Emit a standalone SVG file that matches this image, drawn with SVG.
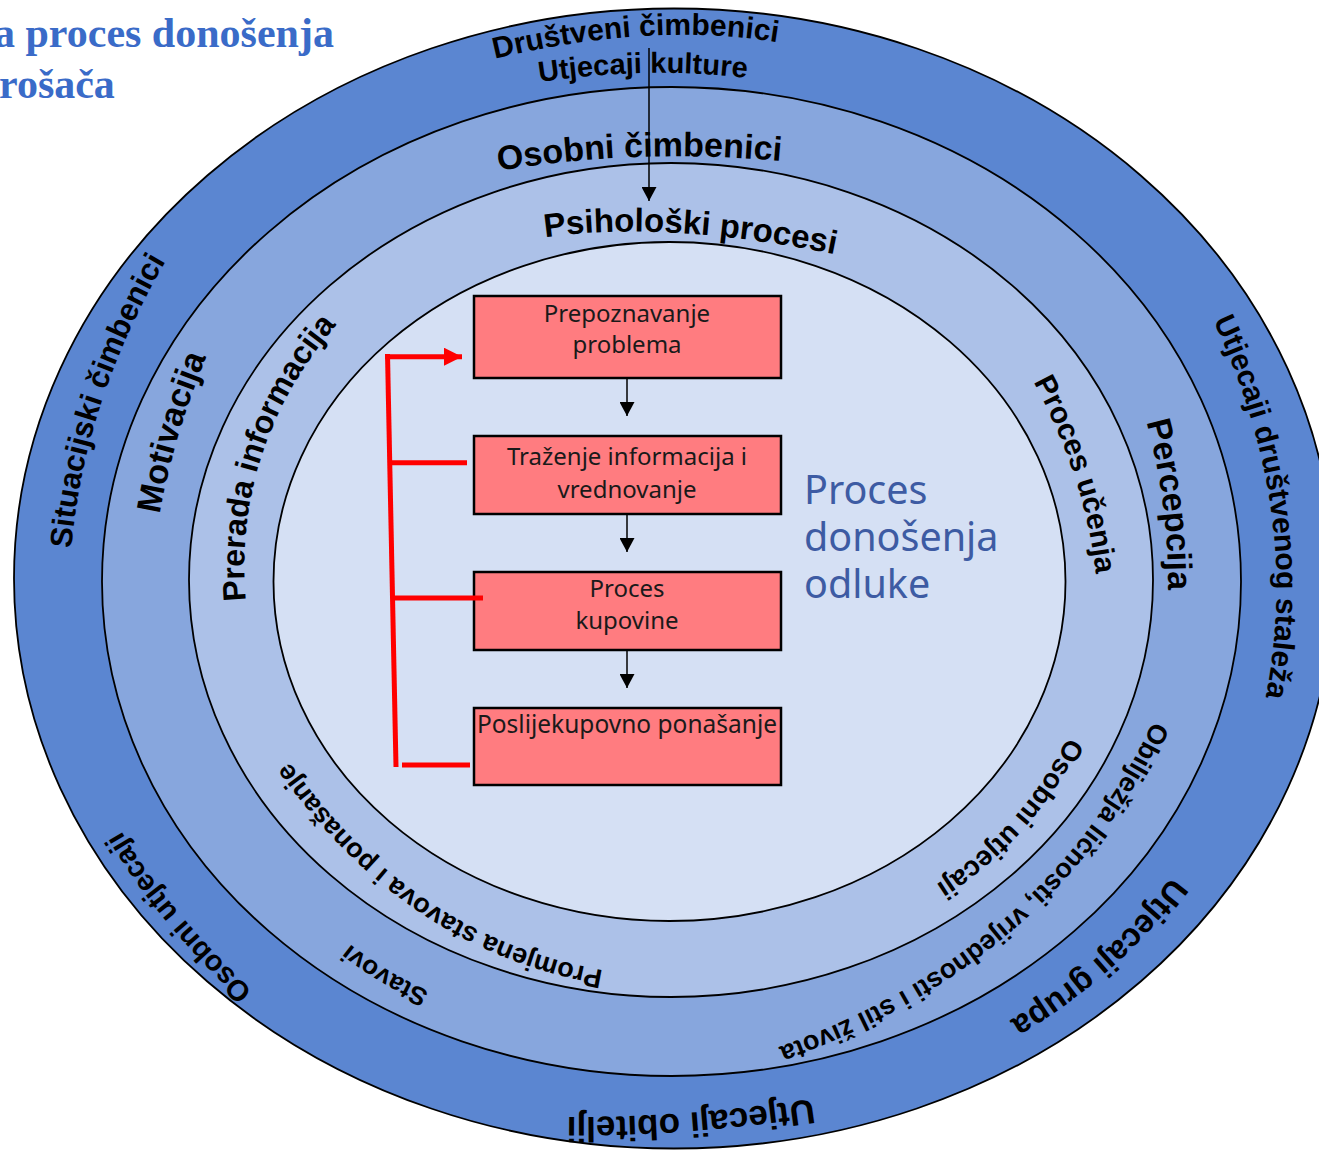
<svg xmlns="http://www.w3.org/2000/svg" width="1319" height="1151" viewBox="0 0 1319 1151">
<style>
.ring{stroke:#000;stroke-width:1.8}
.lbl{font-family:"Liberation Sans",Arial,sans-serif;font-weight:bold;fill:#000}
.box rect{fill:#FF7C80;stroke:#000;stroke-width:2.5}
.box text{font-family:"Noto Sans","DejaVu Sans",sans-serif;font-size:24px;fill:#1a1a1a;text-anchor:middle}
.blk{stroke:#000;stroke-width:1.5;fill:none}
.red{stroke:#FF0000;stroke-width:5;fill:none}
.title{font-family:"Liberation Serif","Times New Roman",serif;font-weight:bold;font-size:42px;fill:#3A6BC8}
.big{font-family:"Noto Sans","DejaVu Sans",sans-serif;font-size:39.5px;fill:#3D5BA3}
</style>
<defs>
<marker id="ah" viewBox="0 0 14 15" refX="14" refY="7.5" markerWidth="14" markerHeight="15" markerUnits="userSpaceOnUse" orient="auto"><path d="M0,0 L14,7.5 L0,15 Z" fill="#000"/></marker>
<marker id="rh" viewBox="0 0 18 18" refX="18" refY="9" markerWidth="18" markerHeight="18" markerUnits="userSpaceOnUse" orient="auto"><path d="M0,0 L18,9 L0,18 Z" fill="#FF0000"/></marker>
<path id="p1" d="M472.8,63.7 L502,57 Q650,23 770,41 L799.7,45.5"/>
<path id="p2" d="M510.3,86.4 L540,82 Q647,66 746,78 L775.8,81.6"/>
<path id="p3" d="M68.7,582.9 L71,553 Q82.5,403 168,257 L183.2,231.1"/>
<path id="p4" d="M1199.2,290.9 L1212,318 Q1303.5,511 1265,700 L1259,729.4"/>
<path id="p5" d="M1190,852 L1172,876 Q1106.5,963.5 1009,1021 L983.2,1036.2"/>
<path id="p6" d="M841.7,1094.7 L812,1099 Q680,1118 568,1117 L538,1116.7"/>
<path id="p7" d="M273.7,1010.7 L252,990 Q165,907 122,832 L107.1,806"/>
<path id="p8" d="M468.4,176 L498,171 Q634,148 782,161 L811.9,163.6"/>
<path id="p9" d="M154.8,542.6 L160,513 Q173,438.5 206,358 L217.4,330.2"/>
<path id="p10" d="M1138.1,391.1 L1146,420 Q1169,504 1168,592 L1167.7,622"/>
<path id="p11" d="M456.5,1003 L429,991 Q386.5,972.5 350,944 L326.4,925.5"/>
<path id="p12" d="M1169.5,685.7 L1157,713 Q1046.5,954.5 770,1050 L741.6,1059.8"/>
<path id="p13" d="M517.3,241.1 L547,237 Q666,220.5 833,254 L862.4,259.9"/>
<path id="p14" d="M248.7,632.9 L246,603 Q232,447 338,323 L357.5,300.2"/>
<path id="p15" d="M1018.7,354.6 L1033,381 Q1085.5,478 1096,575 L1099.2,604.8"/>
<path id="p16" d="M1082.5,708.2 L1069,735 Q1020.5,831.5 934,886 L908.6,902"/>
<path id="p17" d="M638.6,975.7 L609,971 Q412.5,940 286,757 L268.9,732.3"/>
</defs>
<rect width="1319" height="1151" fill="#fff"/>
<g id="title">
<text class="title" x="-6" y="47">a proces donošenja</text>
<text class="title" x="-1" y="98">rošača</text>
</g>
<g id="rings">
<ellipse id="ring-outer" class="ring" cx="674" cy="578.5" rx="660" ry="570" fill="#5B86D1"/>
<ellipse id="ring-second" class="ring" cx="671.5" cy="581.5" rx="569.5" ry="494.5" fill="#87A6DD"/>
<ellipse id="ring-third" class="ring" cx="671" cy="580" rx="482" ry="417" fill="#ACC1E8"/>
<ellipse id="ring-inner" class="ring" cx="669.5" cy="581.5" rx="396" ry="339.5" fill="#D5E0F4"/>
</g>
<g id="labels">
<text class="lbl" font-size="30"><textPath href="#p1" startOffset="50%" text-anchor="middle">Društveni čimbenici</textPath></text>
<text class="lbl" font-size="29"><textPath href="#p2" startOffset="50%" text-anchor="middle">Utjecaji kulture</textPath></text>
<text class="lbl" font-size="31"><textPath href="#p3" startOffset="50%" text-anchor="middle">Situacijski čimbenici</textPath></text>
<text class="lbl" font-size="30"><textPath href="#p4" startOffset="50%" text-anchor="middle">Utjecaji društvenog staleža</textPath></text>
<text class="lbl" font-size="33"><textPath href="#p5" startOffset="50%" text-anchor="middle">Utjecaji grupa</textPath></text>
<text class="lbl" font-size="35"><textPath href="#p6" startOffset="50%" text-anchor="middle">Utjecaji obitelji</textPath></text>
<text class="lbl" font-size="29"><textPath href="#p7" startOffset="50%" text-anchor="middle">Osobni utjecaji</textPath></text>
<text class="lbl" font-size="34"><textPath href="#p8" startOffset="50%" text-anchor="middle">Osobni čimbenici</textPath></text>
<text class="lbl" font-size="34"><textPath href="#p9" startOffset="50%" text-anchor="middle">Motivacija</textPath></text>
<text class="lbl" font-size="34"><textPath href="#p10" startOffset="50%" text-anchor="middle">Percepcija</textPath></text>
<text class="lbl" font-size="26"><textPath href="#p11" startOffset="50%" text-anchor="middle">Stavovi</textPath></text>
<text class="lbl" font-size="27"><textPath href="#p12" startOffset="50%" text-anchor="middle">Obilježja ličnosti, vrijednosti i stil života</textPath></text>
<text class="lbl" font-size="33"><textPath href="#p13" startOffset="50%" text-anchor="middle">Psihološki procesi</textPath></text>
<text class="lbl" font-size="32"><textPath href="#p14" startOffset="50%" text-anchor="middle">Prerada informacija</textPath></text>
<text class="lbl" font-size="30"><textPath href="#p15" startOffset="50%" text-anchor="middle">Proces učenja</textPath></text>
<text class="lbl" font-size="28"><textPath href="#p16" startOffset="50%" text-anchor="middle">Osobni utjecaji</textPath></text>
<text class="lbl" font-size="27"><textPath href="#p17" startOffset="50%" text-anchor="middle">Promjena stavova i ponašanje</textPath></text>
</g>
<g id="proces-donosenja-odluke">
<text class="big" x="804" y="504">Proces</text>
<text class="big" x="804" y="551">donošenja</text>
<text class="big" x="804" y="598">odluke</text>
</g>
<g id="box1" class="box">
<rect x="474" y="296" width="307" height="82"/>
<text x="627" y="322">Prepoznavanje</text>
<text x="627" y="353">problema</text>
</g>
<g id="box2" class="box">
<rect x="474" y="436" width="307" height="78"/>
<text x="627" y="465">Traženje informacija i</text>
<text x="627" y="498">vrednovanje</text>
</g>
<g id="box3" class="box">
<rect x="474" y="572" width="307" height="78"/>
<text x="627" y="597">Proces</text>
<text x="627" y="629">kupovine</text>
</g>
<g id="box4" class="box">
<rect x="474" y="708" width="307" height="77"/>
<text x="627" y="733" style="font-size:24.5px">Poslijekupovno ponašanje</text>
</g>
<g id="connectors">
<line class="blk" x1="649" y1="48" x2="649" y2="201" marker-end="url(#ah)"/>
<line class="blk" x1="627" y1="378" x2="627" y2="416" marker-end="url(#ah)"/>
<line class="blk" x1="627" y1="514" x2="627" y2="552" marker-end="url(#ah)"/>
<line class="blk" x1="627" y1="650" x2="627" y2="688" marker-end="url(#ah)"/>
<line class="red" x1="387.5" y1="354" x2="396" y2="767"/>
<line class="red" x1="385" y1="356.7" x2="462" y2="356.7" marker-end="url(#rh)"/>
<line class="red" x1="392" y1="462.7" x2="467" y2="462.7"/>
<line class="red" x1="393" y1="598" x2="483" y2="598"/>
<line class="red" x1="402" y1="765" x2="470" y2="765"/>
</g>
</svg>
